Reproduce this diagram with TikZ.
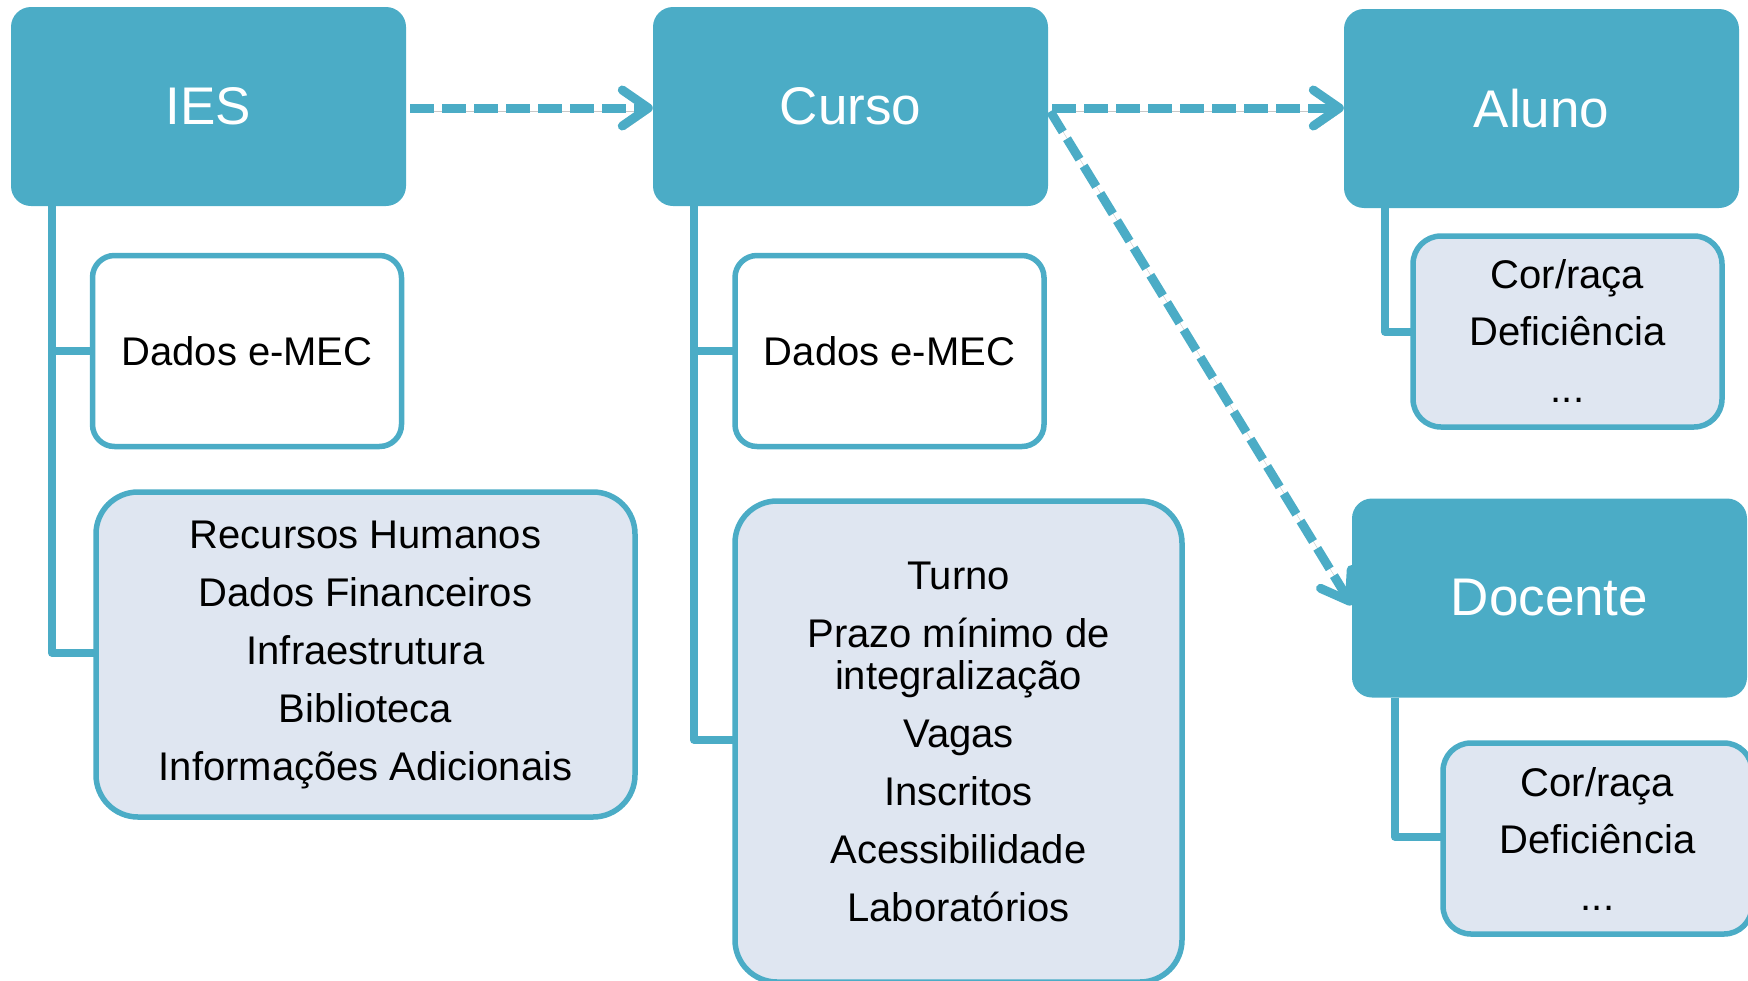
\documentclass[tikz,border=0pt]{standalone}
\usepackage{fontspec}
\setmainfont{Liberation Sans}
\usetikzlibrary{arrows.meta}
\definecolor{teal1}{HTML}{4BACC6}
\definecolor{lightbox}{HTML}{DFE6F1}
\begin{document}
\begin{tikzpicture}[x=1pt,y=-1pt,
  head/.style={rectangle, rounded corners=20pt, fill=teal1, text=white,
    font=\fontsize{53}{60}\selectfont, minimum width=395pt, minimum height=199pt, inner sep=0pt},
  sub/.style={rectangle, rounded corners=22pt, draw=teal1, line width=5.5pt, fill=white,
    font=\fontsize{40}{42}\selectfont, align=center, inner sep=0pt,
    minimum width=309pt, minimum height=191pt},
  listbox/.style={sub, fill=lightbox, rounded corners=42pt},
  softshadow/.style={preaction={draw=black, opacity=0.22, transform canvas={shift={(2.5pt,-3.5pt)}}}},
  tree/.style={draw=teal1, line width=7.5pt, line join=round, softshadow},
  link/.style={draw=teal1, line width=9pt, dash pattern=on 24pt off 8pt,
    -{Straight Barb[length=26pt,width=36pt,round]}, shorten <=4pt, softshadow}
]
\useasboundingbox (0,0) rectangle (1748,980);

% header boxes
\node[head] (ies) at (208.5,106.5) {IES};
\node[head] (curso) at (850.5,106.5) {Curso};
\node[head] (aluno) at (1541.5,108.5) {Aluno};
\node[head] (docente) at (1549.5,598) {Docente};

% tree connectors (drawn before boxes)
\draw[tree] ([xshift=41pt]ies.south west) |- (365.5,653);
\draw[tree] ([xshift=41pt]ies.south west) |- (247,351);
\draw[tree] ([xshift=41pt]curso.south west) |- (958.5,740);
\draw[tree] ([xshift=41pt]curso.south west) |- (889.5,351);
\draw[tree] ([xshift=41pt]aluno.south west) |- (1567.5,332);
\draw[tree] ([xshift=43pt]docente.south west) |- (1597.5,837);

% sub boxes
\node[sub] (iesd) at (247,351) {Dados e-MEC};
\node[listbox, minimum width=539pt, minimum height=325pt] (iesr) at (365.5,654.5)
  {Recursos Humanos\\[16pt] Dados Financeiros\\[16pt] Infraestrutura\\[16pt] Biblioteca\\[16pt] Informações Adicionais};
\node[sub] (cursod) at (889.5,351) {Dados e-MEC};
\node[listbox, minimum width=447pt, minimum height=481pt] (cursot) at (958.5,741.5)
  {Turno\\[16pt] Prazo mínimo de\\ integralização\\[16pt] Vagas\\[16pt] Inscritos\\[16pt] Acessibilidade\\[16pt] Laboratórios};
\node[listbox, rounded corners=28pt] (alunod) at (1567.5,331.5)
  {Cor/raça\\[15pt] Deficiência\\[15pt] ...};
\node[listbox, rounded corners=28pt] (docd) at (1597.5,838.5)
  {Cor/raça\\[15pt] Deficiência\\[15pt] ...};

% dashed arrows
\draw[link] ([yshift=-1.5pt]ies.east) -- ([yshift=-1.5pt]curso.west);
\draw[link] ([yshift=-1.5pt]curso.east) -- ([yshift=0.5pt]aluno.west);
\draw[link] ([yshift=-1.5pt]curso.east) -- ([yshift=-7pt]docente.west);
\end{tikzpicture}
\end{document}
